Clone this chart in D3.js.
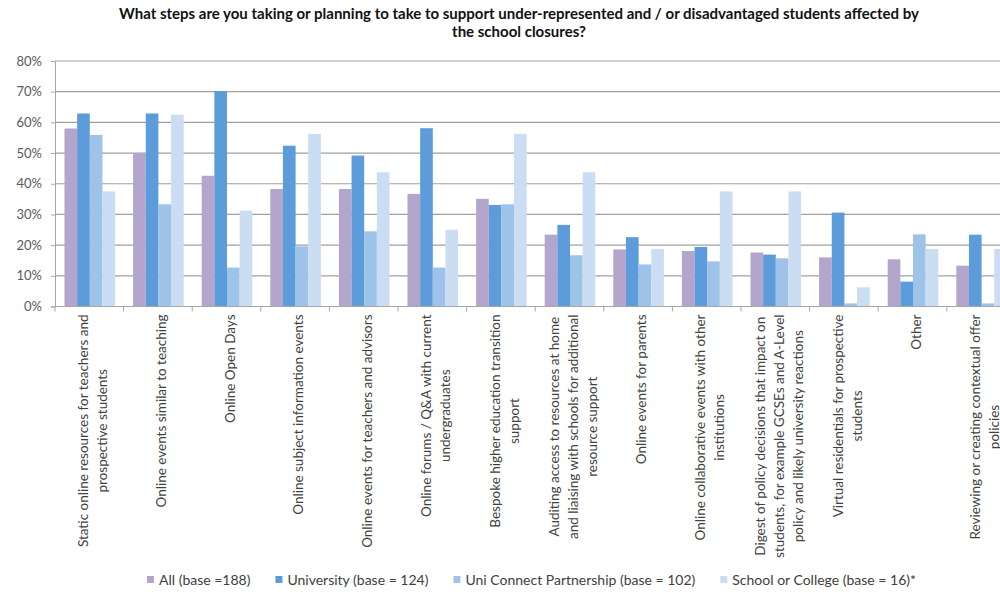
<!DOCTYPE html>
<html>
<head>
<meta charset="utf-8">
<script src="https://cdn.jsdelivr.net/npm/d3@7"></script>
<style>
  html, body { margin: 0; padding: 0; background: #fff; overflow: hidden; }
  svg { display: block; font-family: Lato, "Open Sans", sans-serif; }
</style>
</head>
<body>
<div id="chart"></div>
<script>
const title = [
  "What steps are you taking or planning to take to support under-represented and / or disadvantaged students affected by",
  "the school closures?"
];

const categories = [
  ["Static online resources for teachers and", "prospective students"],
  ["Online events similar to teaching"],
  ["Online Open Days"],
  ["Online subject information events"],
  ["Online events for teachers and advisors"],
  ["Online forums / Q&A with current", "undergraduates"],
  ["Bespoke higher education transition", "support"],
  ["Auditing access to resources at home", "and liaising with schools for additional", "resource support"],
  ["Online events for parents"],
  ["Online collaborative events with other", "institutions"],
  ["Digest of policy decisions that impact on", "students, for example GCSEs and A-Level", "policy and likely university reactions"],
  ["Virtual residentials for prospective", "students"],
  ["Other"],
  ["Reviewing or creating contextual offer", "policies"]
];

const seriesNames = ["All (base =188)", "University (base = 124)", "Uni Connect Partnership (base = 102)", "School or College (base = 16)*"];
const seriesColors = ["#b4a5cc", "#5c9cda", "#9ec3e8", "#cbddf2"];

const allValues        = [58.0, 50.0, 42.6, 38.3, 38.3, 36.7, 35.1, 23.4, 18.6, 18.1, 17.6, 16.0, 15.4, 13.3];
const universityValues = [62.9, 62.9, 70.2, 52.4, 49.2, 58.1, 33.1, 26.6, 22.6, 19.4, 16.9, 30.6, 8.1, 23.4];
const uniConnectValues = [55.9, 33.3, 12.7, 19.6, 24.5, 12.7, 33.3, 16.7, 13.7, 14.7, 15.7, 1.0, 23.5, 1.0];
const schoolValues     = [37.5, 62.5, 31.25, 56.25, 43.75, 25.0, 56.25, 43.75, 18.75, 37.5, 37.5, 6.25, 18.75, 18.75];
const seriesValues = [allValues, universityValues, uniConnectValues, schoolValues];

const yTicks = [0, 10, 20, 30, 40, 50, 60, 70, 80];

const width = 1000, height = 592;
const plotLeft = 55, plotTop = 61, plotBottom = 306.5;
const catWidth = 68.6;

const svg = d3.select("#chart").append("svg")
  .attr("width", width)
  .attr("height", height);

// title
svg.append("g").selectAll("text").data(title).enter()
  .append("text")
  .attr("x", 519)
  .attr("y", (d, i) => 19 + i * 18)
  .attr("text-anchor", "middle")
  .attr("font-size", 15)
  .attr("font-weight", "bold")
  .attr("fill", "#111")
  .text(d => d);

const x0 = d3.scaleBand()
  .domain(d3.range(categories.length))
  .range([plotLeft, plotLeft + catWidth * categories.length]);

const x1 = d3.scaleBand()
  .domain(d3.range(seriesNames.length))
  .range([9.5, catWidth - 8.5]);

const y = d3.scaleLinear().domain([0, 80]).range([plotBottom, plotTop]);

// gridlines
svg.append("g").selectAll("line").data(yTicks.filter(d => d > 0)).enter()
  .append("line")
  .attr("x1", plotLeft).attr("x2", width)
  .attr("y1", d => y(d)).attr("y2", d => y(d))
  .attr("stroke", "#a0a0a0")
  .attr("stroke-width", 1.2);

// y axis
const yAxis = svg.append("g")
  .attr("transform", `translate(${plotLeft},0)`)
  .call(d3.axisLeft(y).tickValues(yTicks).tickSize(4).tickPadding(9).tickFormat(d => d + "%"));
yAxis.select(".domain").attr("stroke", "#a6a6a6");
yAxis.selectAll(".tick line").attr("stroke", "#a6a6a6");
yAxis.selectAll(".tick text")
  .attr("font-family", "Lato, sans-serif")
  .attr("font-size", 13)
  .attr("fill", "#595959");

// bars
const groups = svg.append("g").selectAll("g").data(categories).enter()
  .append("g")
  .attr("transform", (d, i) => `translate(${x0(i)},0)`);

groups.selectAll("rect")
  .data((d, i) => seriesValues.map((vals, s) => ({ s, v: vals[i] })))
  .enter()
  .append("rect")
  .attr("x", d => x1(d.s))
  .attr("width", x1.bandwidth())
  .attr("y", d => y(d.v))
  .attr("height", d => y(0) - y(d.v))
  .attr("fill", d => seriesColors[d.s]);

// x axis line and ticks
svg.append("line")
  .attr("x1", plotLeft).attr("x2", width)
  .attr("y1", plotBottom).attr("y2", plotBottom)
  .attr("stroke", "#a6a6a6");

svg.append("g").selectAll("line").data(d3.range(categories.length + 1)).enter()
  .append("line")
  .attr("x1", d => plotLeft + d * catWidth).attr("x2", d => plotLeft + d * catWidth)
  .attr("y1", plotBottom).attr("y2", plotBottom + 5)
  .attr("stroke", "#a6a6a6");

// rotated category labels
const labels = svg.append("g").selectAll("g").data(categories).enter()
  .append("g")
  .attr("transform", (d, i) => `translate(${x0(i) + x0.bandwidth() / 2 + 3.5},${plotBottom + 8}) rotate(-90)`);

labels.each(function(lines) {
  const g = d3.select(this);
  const texts = g.selectAll("text").data(lines).enter()
    .append("text")
    .attr("font-size", 13.5)
    .attr("fill", "#404040")
    .attr("text-anchor", "middle")
    .attr("dy", "0.35em")
    .attr("y", (d, i) => (i - (lines.length - 1) / 2) * 19)
    .text(d => d);
  let maxW = 0;
  texts.each(function() { maxW = Math.max(maxW, this.getComputedTextLength()); });
  texts.attr("x", -maxW / 2);
});

// legend
const legend = svg.append("g").attr("transform", "translate(147,585)");
const items = legend.selectAll("g").data(seriesNames).enter().append("g");
items.append("rect")
  .attr("width", 7).attr("height", 7)
  .attr("y", -9)
  .attr("fill", (d, i) => seriesColors[i]);
items.append("text")
  .attr("x", 12)
  .attr("font-size", 14)
  .attr("fill", "#404040")
  .text(d => d);

let cursor = 0;
const gap = 25;
items.each(function() {
  const w = d3.select(this).select("text").node().getComputedTextLength() + 12;
  d3.select(this).attr("transform", `translate(${cursor},0)`);
  cursor += w + gap;
});
</script>
</body>
</html>
